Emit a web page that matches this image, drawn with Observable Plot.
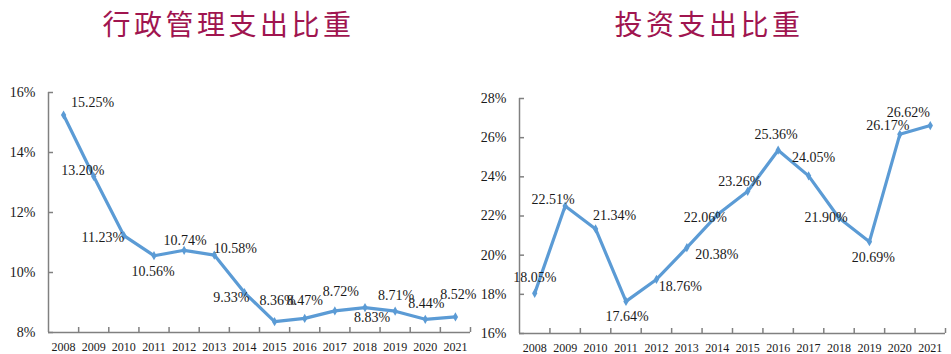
<!DOCTYPE html>
<html>
<head>
<meta charset="utf-8">
<script src="https://cdn.jsdelivr.net/npm/d3@7"></script>
<script src="https://cdn.jsdelivr.net/npm/@observablehq/plot@0.6"></script>
<style>
  html, body { margin: 0; padding: 0; background: #fff; }
  #wrap { display: flex; width: 951px; height: 354px; overflow: hidden; }
  .panel { position: relative; }
  .title {
    height: 50px; line-height: 46px; text-align: center;
    font-family: "Noto Sans CJK SC", sans-serif; font-size: 28px;
    letter-spacing: 3.5px; color: #a0154f; white-space: nowrap;
  }
</style>
</head>
<body>
<div id="wrap">
  <div class="panel" id="p1" style="width:475px"><div class="title" style="padding-right:18px">行政管理支出比重</div></div>
  <div class="panel" id="p2" style="width:476px"><div class="title" style="padding-right:8px">投资支出比重</div></div>
</div>
<script>
const years = [2008, 2009, 2010, 2011, 2012, 2013, 2014, 2015, 2016, 2017, 2018, 2019, 2020, 2021];
const adminShare = [15.25, 13.20, 11.23, 10.56, 10.74, 10.58, 9.33, 8.36, 8.47, 8.72, 8.83, 8.71, 8.44, 8.52];
const investShare = [18.05, 22.51, 21.34, 17.64, 18.76, 20.38, 22.06, 23.26, 25.36, 24.05, 21.90, 20.69, 26.17, 26.62];
const adminTicks = [8, 10, 12, 14, 16];
const investTicks = [16, 18, 20, 22, 24, 26, 28];

// label nudges (layout only): [dx, dy] from each point
const adminLabelNudge = [[29,-12],[-11,-6],[-21,2],[-1,16],[1,-10],[21,-7],[-13,5],[3,-21],[0,-18],[6,-19],[7,10],[1,-16],[1,-16],[3,-22]];
const investLabelNudge = [[0,-16],[-12,-6],[19,-13],[1,15],[24,7],[30,7],[-12,3],[-8,-10],[-2,-16],[5,-18],[-13,0],[4,16],[-12,-9],[-22,-13]];

const lineColor = "#5b9bd5";
const axisColor = "#808080";

function makeChart(values, ticks, nudges, layout) {
  const data = years.map((y, i) => ({year: y, v: values[i]}));
  const boundaries = years.map(y => y + 0.5);
  const labels = data.map((d, i) => Plot.text([d], {
    x: "year", y: "v", text: d => d.v.toFixed(2) + "%",
    dx: nudges[i][0], dy: nudges[i][1],
    fontSize: 14, fill: "#1a1a1a"
  }));
  return Plot.plot({
    width: layout.width, height: 304,
    marginLeft: layout.ml, marginRight: layout.mr, marginTop: layout.mt, marginBottom: layout.mb,
    x: {domain: [years[0] - 0.5, years[years.length - 1] + 0.5], axis: null},
    y: {domain: [ticks[0], ticks[ticks.length - 1]], axis: null},
    style: {fontFamily: "'Liberation Serif', 'Times New Roman', serif", fontSize: "14px", color: "#1a1a1a", background: "transparent", overflow: "visible"},
    marks: [
      Plot.axisY({ticks, label: null, tickSize: 0, tickPadding: 13, tickFormat: d => d + "%", fontSize: 14}),
      Plot.axisY({ticks, label: null, tickSize: 5, dx: 5, tickFormat: () => "", stroke: axisColor, strokeWidth: 1.5}),
      Plot.axisX({ticks: years, label: null, tickSize: 0, tickPadding: 10, tickFormat: d => String(d), fontSize: 12}),
      Plot.axisX({ticks: boundaries, label: null, tickSize: 5, dy: -5, tickFormat: () => "", stroke: axisColor, strokeWidth: 1.5}),
      Plot.ruleY([ticks[0]], {stroke: axisColor, strokeWidth: 1.5}),
      Plot.ruleX([years[0] - 0.5], {stroke: axisColor, strokeWidth: 1.5}),
      Plot.line(data, {x: "year", y: "v", stroke: lineColor, strokeWidth: 3.2, strokeLinejoin: "round"}),
      Plot.dot(data, {x: "year", y: "v", symbol: "diamond", r: 2.8, fill: lineColor}),
      ...labels
    ]
  });
}

document.getElementById("p1").appendChild(
  makeChart(adminShare, adminTicks, adminLabelNudge, {width: 475, ml: 48, mr: 5, mt: 42, mb: 22})
);
document.getElementById("p2").appendChild(
  makeChart(investShare, investTicks, investLabelNudge, {width: 476, ml: 44, mr: 6, mt: 48, mb: 21})
);
</script>
</body>
</html>
